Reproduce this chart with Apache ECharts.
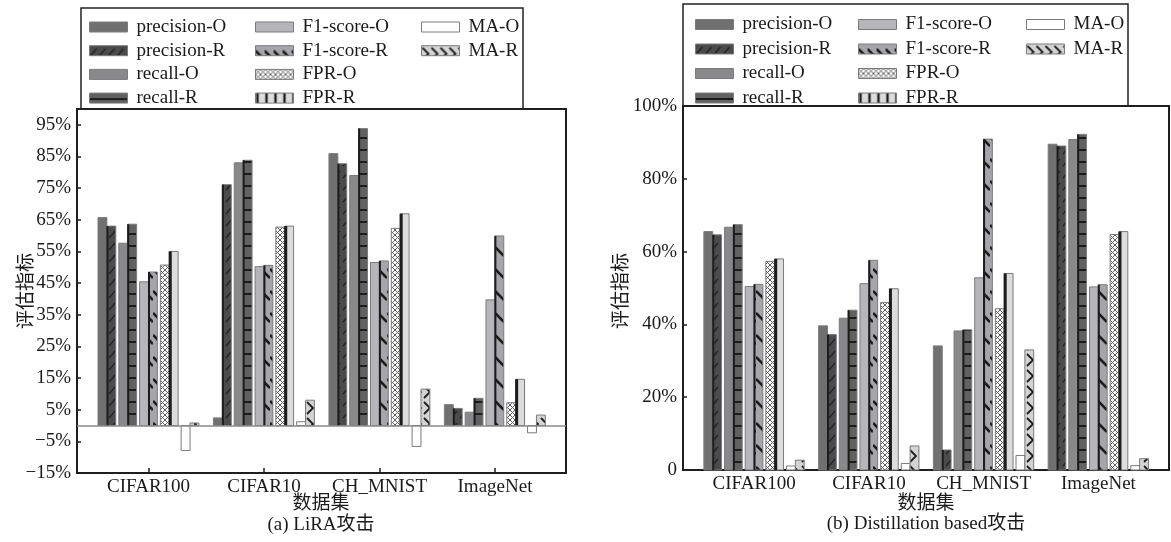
<!DOCTYPE html>
<html>
<head>
<meta charset="utf-8">
<script src="https://cdn.jsdelivr.net/npm/echarts@6/dist/echarts.min.js"></script>
<style>
  html, body { margin: 0; padding: 0; background: #fff; }
  #chart { width: 1171px; height: 542px; }
</style>
</head>
<body>
<div id="chart"></div>
<script>
// ---- data (percent) ----
const datasets = ['CIFAR100', 'CIFAR10', 'CH_MNIST', 'ImageNet'];
const metricNames = ['precision-O', 'precision-R', 'recall-O', 'recall-R',
                     'F1-score-O', 'F1-score-R', 'FPR-O', 'FPR-R', 'MA-O', 'MA-R'];

// (a) LiRA attack
const liraPrecisionO = [65.7, 2.4, 85.9, 6.6];
const liraPrecisionR = [63.0, 76.1, 82.7, 5.4];
const liraRecallO    = [57.6, 83.0, 79.0, 4.2];
const liraRecallR    = [63.6, 83.8, 93.8, 8.6];
const liraF1O        = [45.4, 50.2, 51.5, 39.7];
const liraF1R        = [48.5, 50.6, 52.0, 59.9];
const liraFprO       = [50.7, 62.7, 62.3, 7.2];
const liraFprR       = [55.0, 63.0, 66.9, 14.6];
const liraMaO        = [-7.9, 1.2, -6.6, -2.3];
const liraMaR        = [0.8, 8.0, 11.5, 3.3];

// (b) Distillation based attack
const distPrecisionO = [65.5, 39.6, 34.1, 89.5];
const distPrecisionR = [64.6, 37.2, 5.5, 89.0];
const distRecallO    = [66.7, 41.7, 38.2, 90.8];
const distRecallR    = [67.4, 43.9, 38.5, 92.2];
const distF1O        = [50.4, 51.2, 52.8, 50.3];
const distF1R        = [51.0, 57.6, 90.9, 50.9];
const distFprO       = [57.3, 46.0, 44.3, 64.7];
const distFprR       = [58.0, 49.8, 54.0, 65.5];
const distMaO        = [1.1, 1.8, 4.0, 1.2];
const distMaR        = [2.7, 6.6, 33.0, 3.1];

const liraTicks = [-15, -5, 5, 15, 25, 35, 45, 55, 65, 75, 85, 95];
const distTicks = [0, 20, 40, 60, 80, 100];

const liraSeries = [liraPrecisionO, liraPrecisionR, liraRecallO, liraRecallR, liraF1O,
                    liraF1R, liraFprO, liraFprR, liraMaO, liraMaR];
const distSeries = [distPrecisionO, distPrecisionR, distRecallO, distRecallR, distF1O,
                    distF1R, distFprO, distFprR, distMaO, distMaR];

// ---- fills ----
const INK = '#1c1c1c';
function tile(w, h, bg, draw) {
  const c = document.createElement('canvas');
  c.width = w; c.height = h;
  const g = c.getContext('2d');
  g.fillStyle = bg; g.fillRect(0, 0, w, h);
  if (draw) { g.strokeStyle = INK; g.lineCap = 'butt'; draw(g); }
  return { image: c, repeat: 'repeat' };
}
const fillSlash = tile(9, 12, '#4b4b4b', g => {
  g.lineWidth = 1.3; g.strokeStyle = '#222';
  g.beginPath(); g.moveTo(1, 10); g.lineTo(7, 3); g.stroke();
});
const fillDash = tile(1, 12, '#616161', g => {
  g.lineWidth = 2; g.beginPath(); g.moveTo(0, 6); g.lineTo(1, 6); g.stroke();
});
const fillBack = tile(9, 22, '#a6a6aa', g => {
  g.lineWidth = 2.6; g.beginPath(); g.moveTo(0, 5); g.lineTo(9, 14); g.stroke();
});
const fillCross = tile(5, 5, '#ffffff', g => {
  g.lineWidth = 1; g.strokeStyle = '#5e5e5e';
  g.beginPath(); g.moveTo(0, 0); g.lineTo(5, 5); g.moveTo(5, 0); g.lineTo(0, 5); g.stroke();
});
const fillZig = tile(9, 16, '#d3d3d3', g => {
  g.lineWidth = 1.8; g.beginPath(); g.moveTo(1, 2); g.lineTo(7, 8); g.lineTo(1, 14); g.stroke();
});
const fillVert = tile(9, 1, '#dcdcdc', g => {
  g.lineWidth = 2.4; g.beginPath(); g.moveTo(2, 0); g.lineTo(2, 1); g.stroke();
});

// one entry per metric: face fill and dark left edge width
const BAR_STYLE = [
  { fill: '#707070' },
  { fill: fillSlash, edge: 2 },
  { fill: '#89898b' },
  { fill: fillDash, edge: 2 },
  { fill: '#b6b6ba' },
  { fill: fillBack, edge: 2 },
  { fill: fillCross },
  { fill: '#dcdcdc', edge: 3 },
  { fill: '#ffffff' },
  { fill: fillZig }
];
const LEGEND_FILL = BAR_STYLE.map(s => s.fill);
LEGEND_FILL[7] = fillVert;

// ---- bar geometry (in category units) ----
const BAR_W = 0.077;
const PAIR = 0.18;
const GROUP_L = -0.438;

function barRenderer(k) {
  return function (params, api) {
    const c = api.value(0), v = api.value(1);
    const unit = api.size([1, 0])[0];
    const a = api.coord([c, 0]), b = api.coord([c, v]);
    const x = a[0] + (GROUP_L + Math.floor(k / 2) * PAIR + (k % 2) * BAR_W) * unit;
    const w = BAR_W * unit;
    const y = Math.min(a[1], b[1]), h = Math.abs(a[1] - b[1]);
    const st = BAR_STYLE[k];
    const kids = [{
      type: 'rect', shape: { x: x, y: y, width: w, height: h },
      style: { fill: st.fill, stroke: '#7b7b7b', lineWidth: 1 }
    }];
    if (st.edge) {
      kids.push({ type: 'rect', shape: { x: x - 0.5, y: y, width: st.edge, height: h },
                  style: { fill: INK } });
    }
    return { type: 'group', children: kids };
  };
}

const FONT = '"Liberation Serif", "Times New Roman", "Noto Sans CJK SC", serif';
const TXT = '#1a1a1a';

function panel(idx, box, values, ticks, fmt, zeroLine) {
  const grid = { left: box.left, top: box.top, width: box.width, height: box.height,
                 show: true, borderColor: '#1e1e1e', borderWidth: 2, containLabel: false };
  const xAxis = {
    gridIndex: idx, type: 'value', min: -0.62, max: 3.615,
    axisLine: { show: true, onZero: false, lineStyle: { color: '#1e1e1e', width: 2 } },
    axisTick: { show: true, inside: true, length: 5, customValues: [0, 1, 2, 3],
                lineStyle: { color: '#1e1e1e', width: 1.5 } },
    axisLabel: { customValues: [0, 1, 2, 3], margin: 5, color: TXT, fontFamily: FONT, fontSize: 19,
                 formatter: v => datasets[Math.round(v)] },
    splitLine: { show: false }
  };
  const yAxis = {
    gridIndex: idx, type: 'value', min: box.ymin, max: box.ymax,
    axisLine: { show: true, onZero: false, lineStyle: { color: '#1e1e1e', width: 2 } },
    axisTick: { show: true, inside: true, length: 4, customValues: ticks,
                lineStyle: { color: '#1e1e1e', width: 1.5 } },
    axisLabel: { customValues: ticks, margin: 6, color: TXT, fontFamily: FONT, fontSize: 19,
                 formatter: fmt },
    splitLine: { show: false }
  };
  const series = values.map((arr, k) => {
    const s = {
      type: 'custom', name: metricNames[k], xAxisIndex: idx, yAxisIndex: idx,
      renderItem: barRenderer(k), silent: true,
      data: arr.map((v, i) => [i, v])
    };
    if (k === 0 && zeroLine) {
      s.markLine = { silent: true, symbol: ['none', 'none'], label: { show: false },
                     lineStyle: { color: '#8a8a8a', width: 1.5, type: 'solid' },
                     data: [{ yAxis: 0 }] };
    }
    return s;
  });
  return { grid, xAxis, yAxis, series };
}

const pctFmt = v => (v < 0 ? '\u2212' + (-v) : v) + '%';
const pA = panel(0, { left: 77, top: 109, width: 489, height: 364, ymin: -15, ymax: 100 },
                 liraSeries, liraTicks, pctFmt, true);
const pB = panel(1, { left: 683, top: 106, width: 486, height: 364, ymin: 0, ymax: 100 },
                 distSeries, distTicks, v => (v === 0 ? '0' : v + '%'), false);

function legendCol(names, left, top, gap) {
  return {
    orient: 'vertical', left: left, top: top, itemGap: gap,
    itemWidth: 38, itemHeight: 10, icon: 'rect', selectedMode: false,
    textStyle: { fontFamily: FONT, fontSize: 19, color: TXT, lineHeight: 20, padding: [0, 0, 0, 4] },
    data: names.map(n => ({
      name: n,
      itemStyle: { color: LEGEND_FILL[metricNames.indexOf(n)], borderColor: '#7b7b7b', borderWidth: 1 }
    }))
  };
}
const col1 = metricNames.slice(0, 4), col2 = metricNames.slice(4, 8), col3 = metricNames.slice(8);

const legends = [
  legendCol(col1, 84, 12, 3.7), legendCol(col2, 250, 12, 3.7), legendCol(col3, 416, 12, 3.7),
  legendCol(col1, 690, 9.5, 4.5), legendCol(col2, 853, 9.5, 4.5), legendCol(col3, 1021, 9.5, 4.5)
];

function label(text, x, y, rot) {
  return { type: 'text', x: x, y: y, rotation: rot || 0, silent: true, z: 10,
           style: { text: text, fill: TXT, font: '19px ' + FONT, align: 'center', verticalAlign: 'middle' } };
}
function frame(x, y, w, h) {
  return { type: 'rect', silent: true, z: 5, shape: { x: x, y: y, width: w, height: h },
           style: { fill: 'none', stroke: '#222', lineWidth: 1.5 } };
}

const chart = echarts.init(document.getElementById('chart'), null, { renderer: 'canvas' });
chart.setOption({
  animation: false,
  backgroundColor: '#ffffff',
  grid: [pA.grid, pB.grid],
  xAxis: [pA.xAxis, pB.xAxis],
  yAxis: [pA.yAxis, pB.yAxis],
  legend: legends,
  series: pA.series.concat(pB.series),
  graphic: [
    frame(81, 8, 442, 101),
    frame(683, 4, 445, 102),
    label('评估指标', 27, 291, Math.PI / 2),
    label('评估指标', 622, 291, Math.PI / 2),
    label('数据集', 321, 504),
    label('(a) LiRA攻击', 321, 525),
    label('数据集', 926, 504),
    label('(b) Distillation based攻击', 926, 524)
  ]
});
</script>
</body>
</html>
